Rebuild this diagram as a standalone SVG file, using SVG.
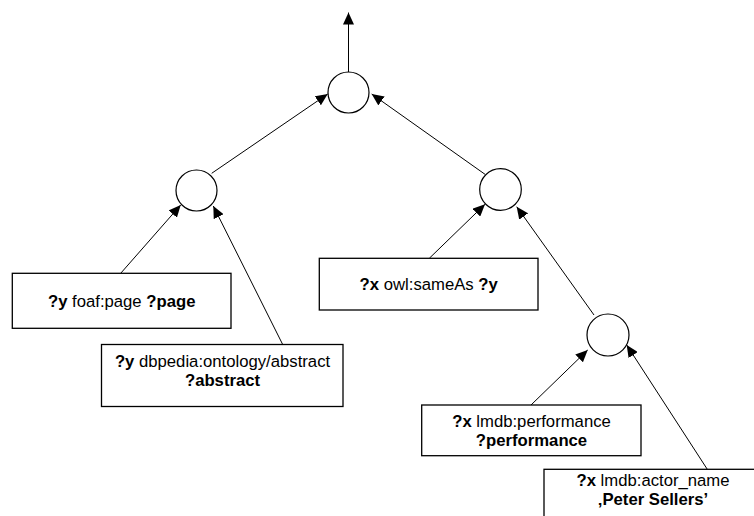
<svg xmlns="http://www.w3.org/2000/svg" width="754" height="516" viewBox="0 0 754 516">
<style>
  .op { fill: #fff; stroke: #000; stroke-width: 1.2; }
  .box { fill: #fff; stroke: #000; stroke-width: 1.3; }
  .edge { stroke: #000; stroke-width: 1; fill: none; marker-end: url(#arr); }
  text { font-family: "Liberation Sans", Arial, sans-serif; font-size: 16.7px; fill: #000; text-anchor: middle; }
  .b { font-weight: bold; }
</style>
<defs>
  <marker id="arr" markerUnits="userSpaceOnUse" markerWidth="12" markerHeight="11" refX="12" refY="5.5" orient="auto">
    <path d="M0,0 L12,5.5 L0,11 z" fill="#000"/>
  </marker>
</defs>
<rect width="754" height="516" fill="#fff"/>
<g id="connectors">
  <line class="edge" x1="348.5" y1="72" x2="348.5" y2="12.5"/>
  <line class="edge" x1="211.7" y1="173.3" x2="327.7" y2="94"/>
  <line class="edge" x1="485" y1="174.3" x2="371.7" y2="94"/>
  <line class="edge" x1="120.7" y1="273.3" x2="180.7" y2="205"/>
  <line class="edge" x1="282.7" y1="344.5" x2="213.3" y2="206"/>
  <line class="edge" x1="429.3" y1="258.3" x2="485" y2="204.3"/>
  <line class="edge" x1="594" y1="315" x2="516.7" y2="206.7"/>
  <line class="edge" x1="531" y1="405" x2="587.7" y2="350"/>
  <line class="edge" x1="707.3" y1="469.3" x2="626.7" y2="345"/>
</g>
<g id="op-root"><circle class="op" cx="348.5" cy="92.5" r="20.5"/></g>
<g id="op-left"><circle class="op" cx="196.5" cy="190.5" r="20.5"/></g>
<g id="op-right"><circle class="op" cx="500.5" cy="189.5" r="20.8"/></g>
<g id="op-lower"><circle class="op" cx="608" cy="335" r="21"/></g>
<g id="tp-foaf">
  <rect class="box" x="12.3" y="273.3" width="218.7" height="55"/>
  <text x="121.7" y="306.5"><tspan class="b">?y</tspan> foaf:page <tspan class="b">?page</tspan></text>
</g>
<g id="tp-abstract">
  <rect class="box" x="101.5" y="344.5" width="241.5" height="62"/>
  <text x="222.5" y="367"><tspan class="b">?y</tspan> dbpedia:ontology/abstract</text>
  <text x="222.5" y="386" class="b">?abstract</text>
</g>
<g id="tp-sameas">
  <rect class="box" x="319.3" y="258.3" width="218.7" height="51.7"/>
  <text x="428.7" y="290"><tspan class="b">?x</tspan> owl:sameAs <tspan class="b">?y</tspan></text>
</g>
<g id="tp-performance">
  <rect class="box" x="421.7" y="405" width="219.3" height="50.7"/>
  <text x="531.5" y="427"><tspan class="b">?x</tspan> lmdb:performance</text>
  <text x="531.5" y="445.5" class="b">?performance</text>
</g>
<g id="tp-actor">
  <rect class="box" x="544" y="469.3" width="230" height="60"/>
  <text x="653" y="486"><tspan class="b">?x</tspan> lmdb:actor_name</text>
  <text x="653" y="504.5" class="b">‚Peter Sellers’</text>
</g>
</svg>
